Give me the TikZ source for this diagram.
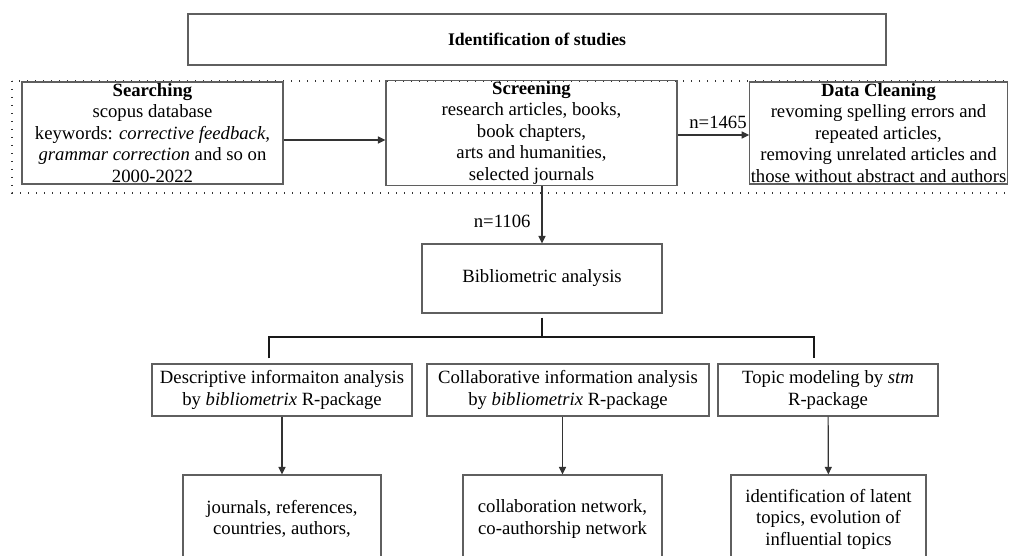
\documentclass[tikz,border=0pt]{standalone}
\usepackage{fontspec}
\setmainfont{Liberation Serif}
\usepackage{tikz}
\usetikzlibrary{arrows.meta, positioning}
\definecolor{boxgray}{RGB}{95,95,95}

\begin{document}
\begin{tikzpicture}[x=1pt, y=-1pt,
  box/.style={draw=boxgray, line width=1.1pt, align=center, inner sep=1pt,
    font=\fontsize{18.7}{21.5}\selectfont},
  arr/.style={-{Triangle[length=7.5pt, width=7pt]}, line width=1.2pt, draw=black!80},
  tree/.style={line width=2pt, draw=black!90},
  grp/.style={dash pattern=on 1.3pt off 6.7pt, line width=1.4pt, draw=black!80}
]
\useasboundingbox (0,0) rectangle (1011,556);
\clip (0,0) rectangle (1011,556);
% Title
\node[box, minimum width=698pt, minimum height=51pt,
  font=\fontsize{17.7}{21}\selectfont\bfseries] (id) at (537,39.5)
  {Identification of studies};
% Collection stage
\draw[grp] (12,81) rectangle (1016,193);
\node[box, minimum width=261pt, minimum height=102pt] (search) at (152.5,133)
  {\textbf{Searching}\\scopus database\\keywords: \textit{corrective feedback,}\\
  \textit{grammar correction} and so on\\2000-2022};
\node[box, minimum width=291pt, minimum height=102pt] (screen) at (531.5,133)
  {\textbf{Screening}\\research articles, books,\\book chapters,\\
  arts and humanities,\\selected journals};
\node[box, minimum width=257pt, minimum height=102pt] (clean) at (878.5,133)
  {\textbf{Data Cleaning}\\revoming spelling errors and\\repeated articles,\\
  removing unrelated articles and\\those without abstract and authors};
\draw[arr] ([yshift=-7pt]search.east) -- ([yshift=-7pt]screen.west);
\draw[arr] ([yshift=-2pt]screen.east) -- ([yshift=-2pt]clean.west)
  node[box, draw=none, above left=5pt and 1pt] (n1) {n=1465};
% Analysis
\node[box, minimum width=240pt, minimum height=69pt] (bib) at (542,278.5)
  {Bibliometric analysis};
\draw[arr] (screen.south -| bib.north) -- (bib.north)
  node[box, draw=none, pos=0.62, left=10pt] (n2) {n=1106};
\node[box, minimum width=260pt, minimum height=52pt] (desc) at (282,390)
  {Descriptive informaiton analysis\\by \textit{bibliometrix} R-package};
\node[box, minimum width=282pt, minimum height=52pt] (collab) at (568,390)
  {Collaborative information analysis\\by \textit{bibliometrix} R-package};
\node[box, minimum width=220pt, minimum height=52pt] (topic) at (828,390)
  {Topic modeling by \textit{stm}\\R-package};
\coordinate (J) at (542,337);
\draw[tree] ([yshift=-4pt]bib.south) -- (J);
\draw[tree] ([xshift=-13pt, yshift=5pt]desc.north) |- (J)
  -| ([xshift=-14pt, yshift=5pt]topic.north);
% Results
\node[box, minimum width=198pt, minimum height=88pt] (descout) at (282,519)
  {journals, references,\\countries, authors,};
\node[box, minimum width=199pt, minimum height=88pt] (collabout) at (562.5,519)
  {collaboration network,\\co-authorship network};
\node[box, minimum width=195pt, minimum height=88pt] (topicout) at (828.5,519)
  {identification of latent\\topics, evolution of\\influential topics};
\draw[arr] (desc) -- (descout);
\draw[arr] (collabout.north |- collab.south) -- (collabout);
\draw[arr] (topic) -- (topicout);
\end{tikzpicture}
\end{document}
